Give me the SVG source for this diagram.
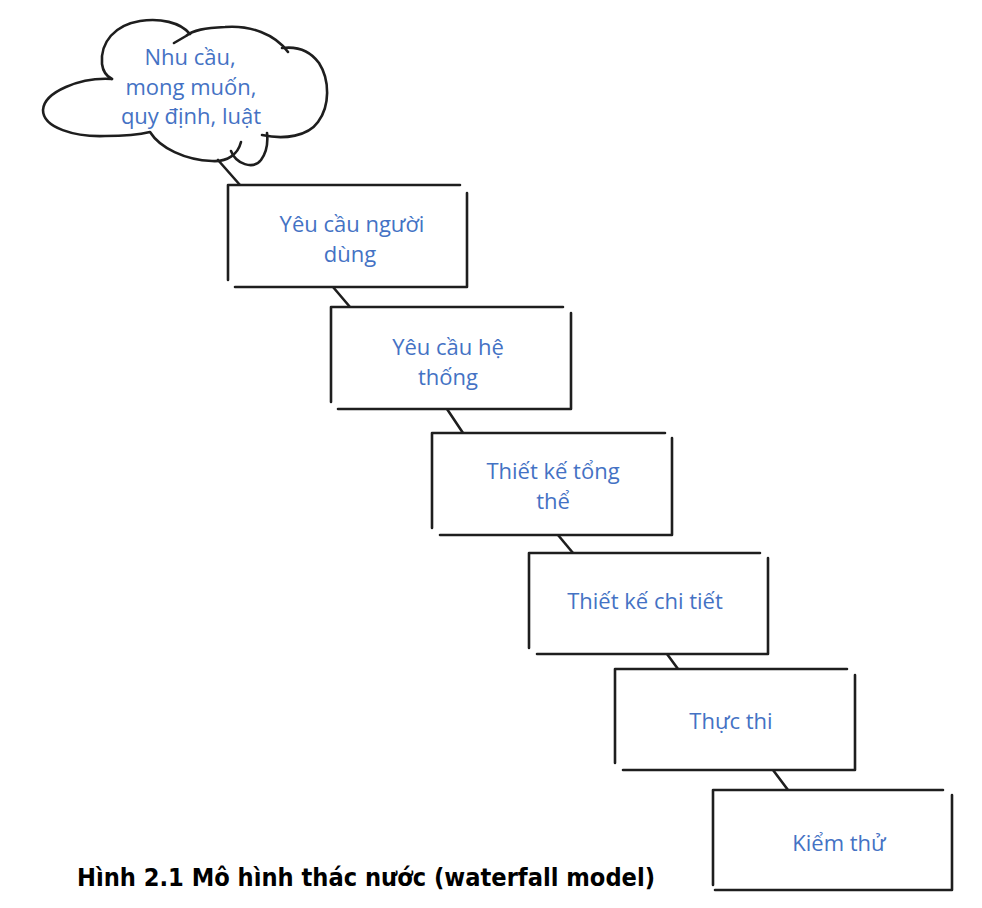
<svg xmlns="http://www.w3.org/2000/svg" width="982" height="908" viewBox="0 0 982 908">
<style>
.ln{fill:none;stroke:#1e1e1e;stroke-width:2.6;stroke-linecap:round;stroke-linejoin:round}
.bx{fill:#ffffff;stroke:none}
.t{font-family:"Open Sans","Liberation Sans",sans-serif;font-size:22px;fill:#4472c4;text-anchor:middle}
.cap{font-family:"DejaVu Sans Condensed","DejaVu Sans",sans-serif;font-weight:bold;font-size:25px;fill:#000000}
</style>
<rect width="982" height="908" fill="#ffffff"/>
<g id="connectors">
<path class="ln" d="M218 160 L240 185"/>
<path class="ln" d="M333 287 L350 307"/>
<path class="ln" d="M447 409 L463 433"/>
<path class="ln" d="M558 535 L573 553"/>
<path class="ln" d="M667 654 L678 669"/>
<path class="ln" d="M773 770 L788 790"/>
</g>
<g id="cloud">
<path class="ln" d="M112 79 C80 77 44 92 43 110 C43 128 75 137 105 136 C125 136 142 134 150 132 C160 148 185 160 212 161 C228 162 238 154 241 142"/>
<path class="ln" d="M231 151 C236 164 253 170 261 160 C267 152 268 142 267 133"/>
<path class="ln" d="M262 135 C285 140 308 136 318 122 C330 106 330 80 319 63 C311 52 298 46 282 48"/>
<path class="ln" d="M288 52 C275 34 250 25 225 27 C205 28 193 30 186 36 L174 43"/>
<path class="ln" d="M190 34 C180 22 160 18 140 21 C115 25 100 42 102 64 C103 72 106 76 112 79"/>
<text class="t" x="190" y="65">Nhu cầu,</text>
<text class="t" x="191" y="95">mong muốn,</text>
<text class="t" x="191" y="124">quy định, luật</text>
</g>
<g id="n1">
<rect class="bx" x="228" y="185" width="239" height="102"/>
<path class="ln" d="M228 280 L228 185 L460 185 M467 193 L467 287 L235 287"/>
<text class="t" x="352" y="232">Yêu cầu người</text>
<text class="t" x="350" y="262">dùng</text>
</g>
<g id="n2">
<rect class="bx" x="331" y="307" width="240" height="102"/>
<path class="ln" d="M331 402 L331 307 L563 307 M571 313 L571 409 L338 409"/>
<text class="t" x="448" y="355">Yêu cầu hệ</text>
<text class="t" x="448" y="385">thống</text>
</g>
<g id="n3">
<rect class="bx" x="432" y="433" width="240" height="102"/>
<path class="ln" d="M432 528 L432 433 L665 433 M672 438 L672 535 L440 535"/>
<text class="t" x="553" y="479">Thiết kế tổng</text>
<text class="t" x="553" y="509">thể</text>
</g>
<g id="n4">
<rect class="bx" x="529" y="553" width="239" height="101"/>
<path class="ln" d="M529 648 L529 553 L760 553 M768 558 L768 654 L537 654"/>
<text class="t" x="645" y="609">Thiết kế chi tiết</text>
</g>
<g id="n5">
<rect class="bx" x="615" y="669" width="240" height="101"/>
<path class="ln" d="M615 763 L615 669 L847 669 M855 675 L855 770 L623 770"/>
<text class="t" x="731" y="729">Thực thi</text>
</g>
<g id="n6">
<rect class="bx" x="713" y="790" width="239" height="100"/>
<path class="ln" d="M713 885 L713 790 L943 790 M952 795 L952 890 L715 890"/>
<text class="t" x="839" y="851">Kiểm thử</text>
</g>
<text class="cap" x="77" y="886" textLength="578" lengthAdjust="spacingAndGlyphs">Hình 2.1 Mô hình thác nước (waterfall model)</text>
</svg>
